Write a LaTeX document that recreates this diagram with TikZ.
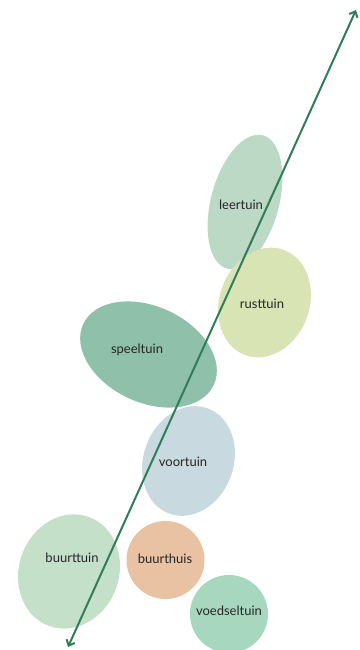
\documentclass[tikz,border=0pt]{standalone}
\usepackage{fontspec}
\setmainfont{Lato}
\usetikzlibrary{arrows.meta}
\definecolor{leergroen}{HTML}{BCD9C6}
\definecolor{rustgeel}{HTML}{D9E4B4}
\definecolor{speelgroen}{HTML}{8FC0AA}
\definecolor{voorblauw}{HTML}{C8D9E0}
\definecolor{buurtgroen}{HTML}{C4E0C9}
\definecolor{huisoranje}{HTML}{E9C2A3}
\definecolor{voedselgroen}{HTML}{A7D8BF}
\definecolor{pijlgroen}{HTML}{2F7D59}
\tikzset{
  tuin/.style={font=\fontsize{13}{15}\selectfont,text=black!85},
  as/.style={line width=2pt,pijlgroen,>={Straight Barb[length=5pt,width=9pt]}}
}
\begin{document}
\begin{tikzpicture}[x=1pt,y=1pt]
  \useasboundingbox (0,0) rectangle (359,650);
  % de tuinen
  \fill[leergroen] (245,448) ellipse [x radius=69,y radius=34,rotate=75];
  \fill[rustgeel] (264.5,347.5) ellipse [x radius=56,y radius=45,rotate=70];
  \fill[speelgroen] (148.5,295.5) ellipse [x radius=72,y radius=48,rotate=-25];
  \fill[voorblauw] (188.5,189) ellipse [x radius=56,y radius=45,rotate=70];
  \fill[buurtgroen] (69,78.5) ellipse [x radius=58,y radius=50,rotate=70];
  \fill[huisoranje] (165.5,90) circle (39);
  \fill[voedselgroen] (229,36) circle (39);
  %\fill[voedselgroen] (229,36) ellipse [x radius=39,y radius=40];

  \coordinate (boven) at (356,640);
  \coordinate (onder) at (68,3);
  \draw[as,<->] (onder) -- (boven);

  \node[tuin] (leertuin) at (241,445) {leertuin};
  \node[tuin] (rusttuin) at (262,346) {rusttuin};
  \node[tuin] (speeltuin) at (137,300) {speeltuin};
  \node[tuin] (voortuin) at (183,188) {voortuin};
  \node[tuin] (buurttuin) at (72,92) {buurttuin};
  \node[tuin] (buurthuis) at (165,91) {buurthuis};
  \node[tuin] (voedseltuin) at (229,39) {voedseltuin};
\end{tikzpicture}
\end{document}
